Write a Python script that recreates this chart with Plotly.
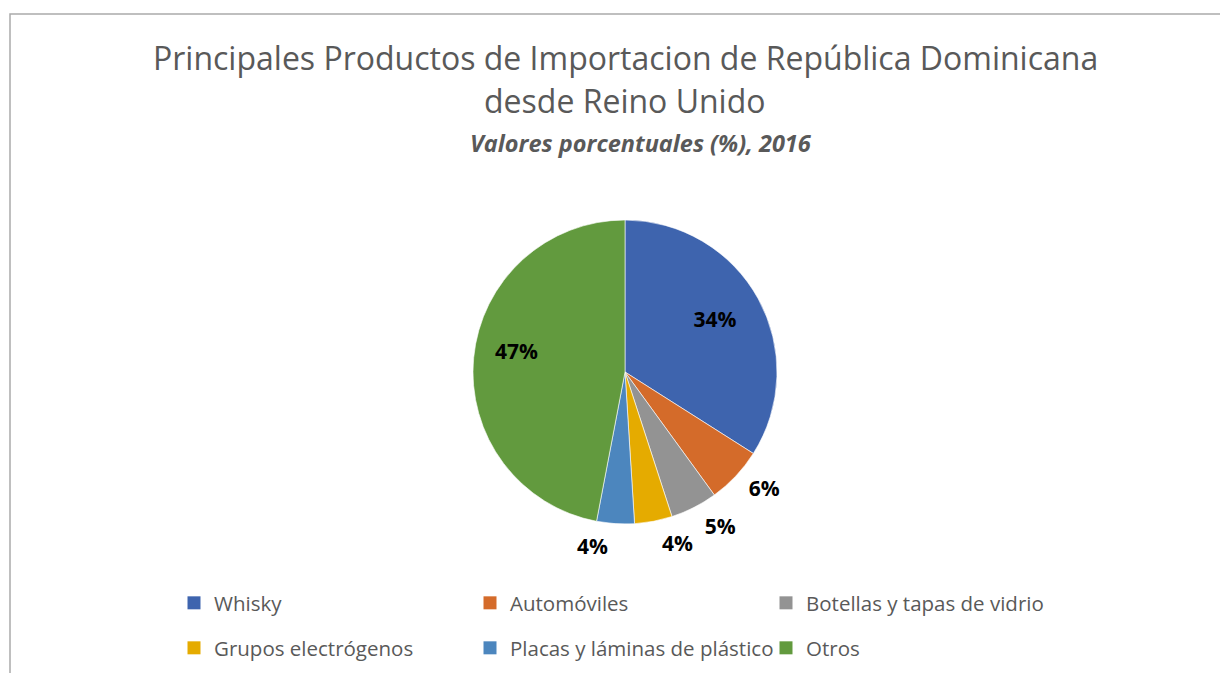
import plotly.graph_objects as go

# Datos del gráfico
categorias = ['Whisky', 'Automóviles', 'Botellas y tapas de vidrio',
              'Grupos electrógenos', 'Placas y láminas de plástico', 'Otros']
valores = [34, 6, 5, 4, 4, 47]
colores = ['#3E64AE', '#D46B2A', '#939393', '#E5AB00', '#4C86BE', '#629A3E']

W, H = 1228, 673
gris = '#595959'
fuente = 'Open Sans'
nb = '&nbsp;'

# centro del pastel (px de papel) y radios
cx, cy, r, r_etq = 617, 364, 152, 160


def dominio(radio):
    return dict(x=[(cx - radio) / W, (cx + radio) / W],
                y=[1 - (cy + radio) / H, 1 - (cy - radio) / H])


transparente = ['rgba(0,0,0,0)'] * len(valores)
fuente_pct = dict(family=fuente, size=21, color='#000000')

fig = go.Figure()

# Pastel visible, con las etiquetas interiores (Whisky y Otros)
fig.add_trace(go.Pie(
    labels=categorias, values=valores, sort=False,
    direction='clockwise', rotation=0,
    marker=dict(colors=colores, line=dict(color='#ffffff', width=0.6)),
    texttemplate=[nb * 7 + '<b>%{percent:.0%}</b><br>' + nb, '', '', '', '',
                  '<b>%{percent:.0%}</b>' + nb * 12 + '<br>' + nb],
    textposition=['inside', 'none', 'none', 'none', 'none', 'inside'],
    insidetextorientation='horizontal',
    textfont=fuente_pct,
    domain=dominio(r),
    hoverinfo='label+percent',
    showlegend=False,
))

# Etiquetas exteriores (pasteles transparentes, solo para el texto)
for visibles in ([1, 2, 4], [3]):
    fig.add_trace(go.Pie(
        labels=categorias, values=valores, sort=False,
        direction='clockwise', rotation=0,
        marker=dict(colors=transparente, line=dict(width=0)),
        texttemplate='<b>%{percent:.0%}</b>',
        textposition=['outside' if i in visibles else 'none' for i in range(len(valores))],
        textfont=fuente_pct,
        domain=dominio(r_etq),
        hoverinfo='skip',
        showlegend=False,
    ))

# Leyenda en dos filas de tres columnas
for i, (cat, col) in enumerate(zip(categorias, colores)):
    fig.add_trace(go.Scatter(
        x=[None], y=[None], mode='markers', name=cat,
        marker=dict(symbol='square', size=13, color=col),
        legend='legend' if i < 3 else 'legend2',
        hoverinfo='skip',
    ))

leyenda = dict(
    orientation='h', x=166 / W, xanchor='left', yanchor='middle',
    entrywidth=251, entrywidthmode='pixels',
    font=dict(family=fuente, size=20.5, color=gris),
    traceorder='normal', bgcolor='rgba(0,0,0,0)',
)

fig.update_layout(
    width=W, height=H,
    margin=dict(l=0, r=0, t=0, b=0),
    paper_bgcolor='white',
    plot_bgcolor='white',
    xaxis=dict(visible=False),
    yaxis=dict(visible=False),
    showlegend=True,
    legend=dict(leyenda, y=1 - 595 / H),
    legend2=dict(leyenda, y=1 - 640 / H),
    annotations=[
        dict(text='Principales Productos de Importacion de República Dominicana',
             x=617 / W, y=1 - 50 / H, xref='paper', yref='paper', showarrow=False,
             font=dict(family=fuente, size=32, color=gris), yanchor='middle'),
        dict(text='desde Reino Unido',
             x=617 / W, y=1 - 93 / H, xref='paper', yref='paper', showarrow=False,
             font=dict(family=fuente, size=32, color=gris), yanchor='middle'),
        dict(text='<b><i>Valores porcentuales (%), 2016</i></b>',
             x=633 / W, y=1 - 135 / H, xref='paper', yref='paper', showarrow=False,
             font=dict(family=fuente, size=23.5, color=gris), yanchor='middle'),
    ],
    shapes=[
        dict(type='rect', xref='paper', yref='paper',
             x0=2 / W, x1=1.02, y0=-0.05, y1=1 - 6 / H,
             line=dict(color='#ababab', width=1.5)),
    ],
)

fig.write_html("out.html")
